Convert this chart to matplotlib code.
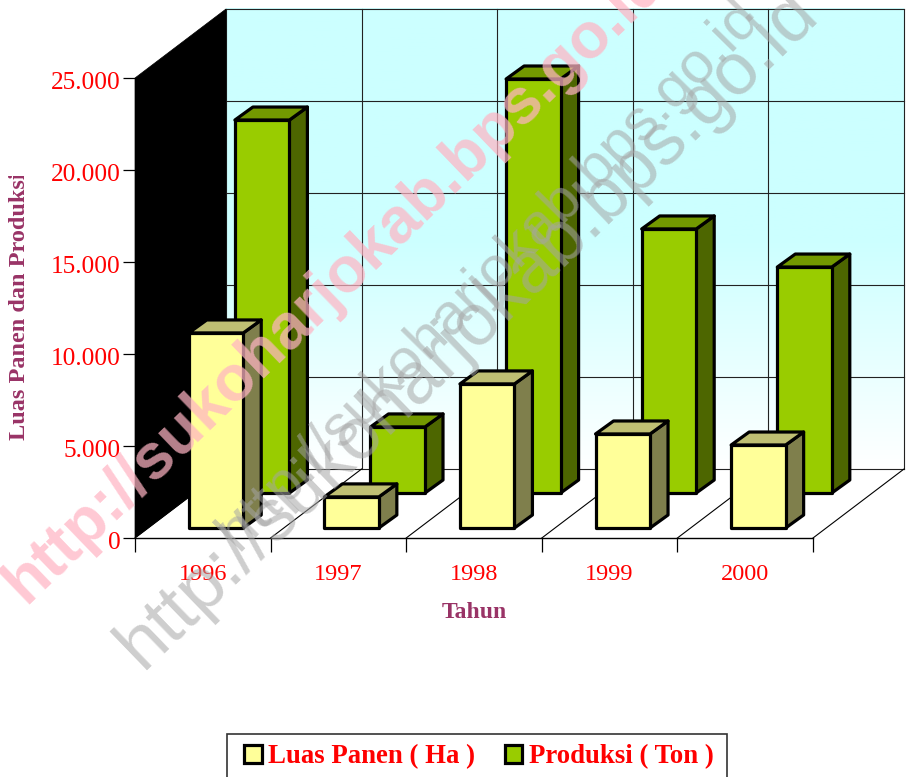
import numpy as np
import matplotlib
matplotlib.use('Agg')
import matplotlib.pyplot as plt
from matplotlib.patches import Polygon, Patch, Rectangle
from matplotlib.colors import LinearSegmentedColormap
from matplotlib.transforms import Bbox, ScaledTranslation

# DATA
years = ['1996', '1997', '1998', '1999', '2000']
luas_panen = [10600, 1690, 7830, 5110, 4510]
produksi = [20270, 3590, 22500, 14350, 12280]
y_ticks = [0, 5000, 10000, 15000, 20000, 25000]
y_tick_labels = ['0', '5.000', '10.000', '15.000', '20.000', '25.000']
series_names = ['Luas Panen ( Ha )', 'Produksi ( Ton )']
wm_text = 'http://sukoharjokab.bps.go.id'

W, H = 906, 777
SERIF = 'Liberation Serif'
SANS = 'Liberation Sans'

# depth of the fake 3d box, in data units (x = category, y = value)
DX = 91 / 135.6
DY = 3750
BAR_W = 54.5 / 135.6
BAR_DX = 18 / 135.6
BAR_DY = 13 / 92 * 5000

fig = plt.figure(figsize=(W / 100, H / 100), dpi=100)
ax = fig.add_axes([135 / W, 1 - 538 / H, 678 / W, 460 / H])
ax.set_xlim(0, 5)
ax.set_ylim(0, 25000)
ax.patch.set_visible(False)
for s in ax.spines.values():
    s.set_visible(False)


def box3d(x, base, val, front, side, top, z):
    # front face, then the side and the lid
    lw = 2.3
    left, right = x, x + BAR_W
    low, high = base, base + val
    ax.add_patch(Polygon([(right, low), (right + BAR_DX, low + BAR_DY), (right + BAR_DX, high + BAR_DY), (right, high)],
                         fc=side, ec='k', lw=lw, zorder=z, clip_on=False, joinstyle='round'))
    ax.add_patch(Polygon([(left, high), (left + BAR_DX, high + BAR_DY), (right + BAR_DX, high + BAR_DY), (right, high)],
                         fc=top, ec='k', lw=lw, zorder=z, clip_on=False, joinstyle='round'))
    ax.add_patch(Polygon([(left, low), (right, low), (right, high), (left, high)],
                         fc=front, ec='k', lw=lw, zorder=z, clip_on=False, joinstyle='round'))


# back wall gradient
cmap = LinearSegmentedColormap.from_list('wall', ['#ffffff', '#ccffff', '#ccffff'])
grad = np.linspace(0, 1, 256).reshape(-1, 1)
ax.imshow(grad, cmap=cmap, origin='lower', aspect='auto', zorder=0, clip_on=False,
          extent=(DX, 5 + DX, DY, 25000 + DY))
ax.set_xlim(0, 5)
ax.set_ylim(0, 25000)

# grid on the back wall
for v in y_ticks:
    ax.plot([DX, 5 + DX], [v + DY, v + DY], color='#222222', lw=0.8, zorder=1, clip_on=False)
for i in range(6):
    ax.plot([i + DX, i + DX], [DY, 25000 + DY], color='#222222', lw=0.8, zorder=1, clip_on=False)
    # floor lines
    ax.plot([i, i + DX], [0, DY], color='k', lw=0.8, zorder=1, clip_on=False)
ax.plot([0, 5], [0, 0], color='k', lw=1, zorder=2, clip_on=False)

# left wall
ax.add_patch(Polygon([(0, 0), (DX, DY), (DX, 25000 + DY), (0, 25000)], fc='k', ec='k', lw=0.5,
                     zorder=2, clip_on=False))

# bars, back row first
for i, v in enumerate(produksi):
    box3d(i + (1 - BAR_W) / 2 + DX * 45 / 69, DY * 45 / 69, v, '#99cc00', '#4d6600', '#739900', 3 + i * 0.01)
for i, v in enumerate(luas_panen):
    box3d(i + (1 - BAR_W) / 2 + DX * 10 / 69, DY * 10 / 69, v, '#ffff99', '#7f7f4c', '#bfbf73', 4 + i * 0.01)

# axes
ax.set_yticks(y_ticks)
ax.set_yticklabels(y_tick_labels, family=SERIF, fontsize=18.3, color='red')
ax.tick_params(axis='y', length=8.5, width=0.9, pad=2)
shift = ScaledTranslation(0, -1.5 / 72, fig.dpi_scale_trans)
for lab in ax.get_yticklabels():
    lab.set_transform(lab.get_transform() + shift)
ax.set_xticks(range(6))
ax.set_xticklabels([])
ax.tick_params(axis='x', which='major', length=10, width=0.9)
ax.set_xticks(np.arange(5) + 0.5, minor=True)
ax.set_xticklabels(years, minor=True, family=SERIF, fontsize=17.5, color='red')
ax.tick_params(axis='x', which='minor', length=0, pad=19)

fig.text(474 / W, 1 - 612 / H, 'Tahun', family=SERIF, fontsize=17, fontweight='bold', color='#993366',
         ha='center', va='center')
yl = fig.text(20 / W, 1 - 440 / H, 'Luas Panen dan Produksi', family=SERIF, fontsize=17.5, fontweight='bold',
              color='#993366', rotation=90, ha='center', va='bottom')
yl.set_clip_box(Bbox([[0, H - 441], [40, H - 176]]))
yl.set_clip_on(True)

# legend box runs past the bottom of the image
fig.add_artist(Rectangle((226.5 / W, 1 - 790 / H), 500 / W, 56 / H, transform=fig.transFigure, fc='white',
                         ec='#333333', lw=1.2, zorder=5))
handles = [Patch(fc='#ffff99', ec='k', lw=2.3), Patch(fc='#99cc00', ec='k', lw=2.3)]
leg = fig.legend(handles, series_names, loc='center', bbox_to_anchor=(479 / W, 1 - 757 / H), ncol=2,
                 prop={'family': SERIF, 'size': 19.3, 'weight': 'bold'}, labelcolor='red', frameon=False,
                 handlelength=0.65, handleheight=0.65, handletextpad=0.25, columnspacing=1.1, borderpad=0,
                 borderaxespad=0)
leg.set_zorder(6)

# watermarks on top of everything
fig.text(25 / W, 1 - 605 / H, wm_text, family=SANS, fontweight='bold', fontsize=46, color='#ffb4c3', alpha=0.72,
         rotation=44, rotation_mode='anchor', ha='left', va='baseline', zorder=20)
fig.text(142 / W, 1 - 670 / H, wm_text, family=SANS, fontsize=53, color='#a5a5a5', alpha=0.55,
         rotation=44, rotation_mode='anchor', ha='left', va='baseline', zorder=21)
fig.text(238 / W, 1 - 552 / H, wm_text, family=SANS, fontsize=42, color='#a5a5a5', alpha=0.55,
         rotation=45.5, rotation_mode='anchor', ha='left', va='baseline', zorder=21)

fig.savefig('out.png', dpi=100)
